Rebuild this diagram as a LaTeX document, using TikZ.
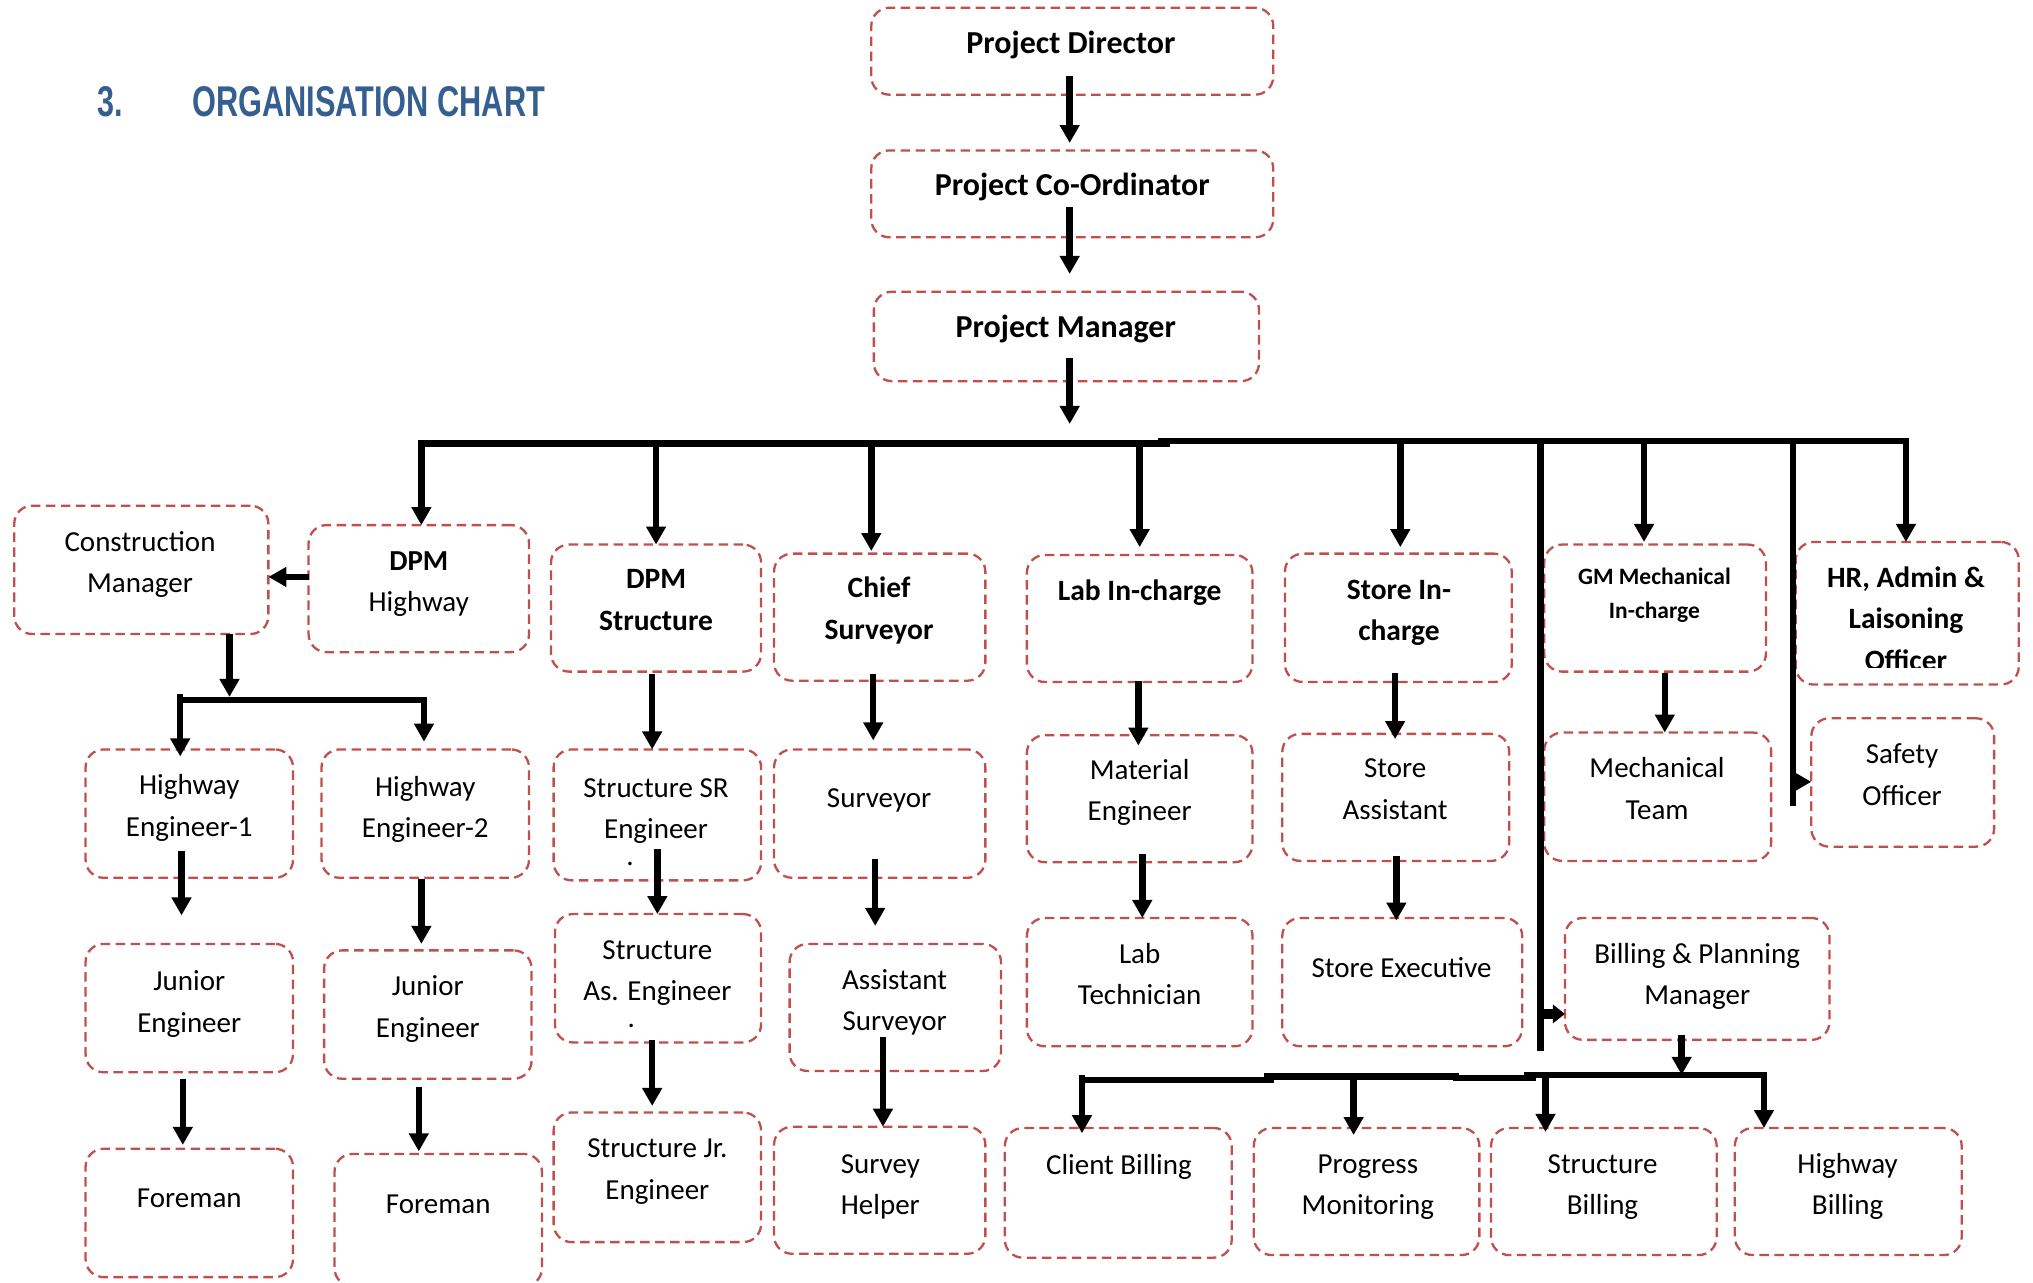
\documentclass[tikz,border=0pt]{standalone}
\usepackage{fontspec}
\usepackage{graphicx}
\setmainfont{Carlito}
\newfontfamily\headfont{Liberation Sans}
\usetikzlibrary{arrows.meta,fit,calc}
\definecolor{boxred}{RGB}{192,80,77}
\definecolor{headblue}{RGB}{54,95,145}
\newcommand\bx[5]{\node[box,fit={(#2,#3) (#4,#5)}] (#1) {};}
\newcommand\vlink[5]{\draw[arr] (#1.south) ++(#3,#4) coordinate (vl) -- ([yshift=#5]vl |- #2.north);}
\begin{document}
\begin{tikzpicture}[x=1.2966pt,y=-1.2966pt,
  box/.style={draw=boxred,line width=2.3pt,dash pattern=on 9.5pt off 5.5pt,rounded corners=18pt,inner sep=0pt,outer sep=0pt,fill=white},
  tbase/.style={anchor=north,inner sep=0pt,outer sep=0pt,align=center},
  txt/.style={tbase,yshift=29.05pt,font=\fontsize{29}{41.5}\selectfont},
  txtb/.style={tbase,yshift=29.05pt,font=\fontsize{29.5}{41.5}\selectfont\bfseries},
  txtt/.style={tbase,yshift=29.05pt,font=\fontsize{32}{41.5}\selectfont\bfseries},
  txtg/.style={tbase,yshift=23.8pt,font=\fontsize{23.5}{34}\selectfont\bfseries},
  arr/.style={line width=6.5pt,-{Triangle[width=19pt,length=18pt]}},
  arrs/.style={line width=10pt,-{Triangle[width=18pt,length=12pt]}},
  arrh/.style={line width=6.5pt,-{Triangle[width=17pt,length=16pt]}},
  bus/.style={line width=6.5pt,line cap=rect},
  head/.style={anchor=base west,inner sep=0pt,text=headblue,font=\headfont\bfseries\fontsize{43}{50}\selectfont}]
\useasboundingbox (0,0) rectangle (1568,989);

% heading
\node[head] (hnum) at (75,90) {\scalebox{0.71}[1]{3.}};
\node[head] (htitle) at (148,90) {\scalebox{0.715}[1]{ORGANISATION CHART}};

% boxes
\bx{pd}{672}{6}{982}{73}
\bx{pc}{672}{116}{982}{183}
\bx{pm}{674}{225}{971}{294}
\bx{cm}{11}{390}{207}{489}
\bx{dpmh}{238}{405}{408}{503}
\bx{dpms}{425}{420}{587}{518}
\bx{cs}{597}{427}{760}{525}
\bx{lab}{792}{428}{966}{526}
\bx{st}{991}{427}{1166}{526}
\bx{gm}{1191}{420}{1362}{518}
\bx{hr}{1385}{418}{1557}{528}
\bx{he1}{66}{578}{226}{677}
\bx{he2}{248}{578}{408}{677}
\bx{ssr}{427}{578}{587}{679}
\bx{sv}{597}{578}{760}{677}
\bx{me}{792}{567}{966}{665}
\bx{sa}{989}{566}{1164}{664}
\bx{mt}{1191}{565}{1366}{664}
\bx{so}{1397}{554}{1538}{653}
\bx{je1}{66}{728}{226}{827}
\bx{je2}{250}{733}{410}{832}
\bx{sae}{428}{705}{587}{804}
\bx{as}{609}{728}{772}{826}
\bx{lt}{792}{708}{966}{807}
\bx{se}{989}{708}{1174}{807}
\bx{bpm}{1207}{708}{1411}{802}
\bx{fm1}{66}{886}{226}{985}
\bx{fm2}{258}{890}{418}{992}
\bx{sje}{427}{858}{587}{958}
\bx{sh}{597}{869}{760}{967}
\bx{cb}{775}{870}{950}{970}
\bx{pmn}{967}{870}{1141}{968}
\bx{sbl}{1150}{870}{1324}{968}
\bx{hbl}{1338}{870}{1513}{968}

% texts
\node[txtt] (tpd) at (826,41.6) {\strut Project Director};
\node[txtt] (tpc) at (827,151) {\strut Project Co-Ordinator};
\node[txtt] (tpm) at (822,260) {\strut Project Manager};
\node[txt] (tcm) at (108,425) {\strut Construction\\\strut Manager};
\node[txt] (tdpmh) at (323,440) {\strut\textbf{DPM}\\\strut Highway};
\node[txtb] (tdpms) at (506,454) {\strut DPM\\\strut Structure};
\node[txtb] (tcs) at (678,461) {\strut Chief\\\strut Surveyor};
\node[txtb] (tlab) at (879,463) {\strut Lab In-charge};
\node[txtb] (tst) at (1079,462) {\strut Store In-\\\strut charge};
\node[txtg] (tgm) at (1276,451) {\strut GM Mechanical\\\strut In-charge};
\begin{scope}
\clip (1380,400) rectangle (1560,515);
\node[txtb] (thr) at (1470,453) {\strut HR, Admin \&\\\strut Laisoning\\\strut Officer};
\end{scope}
\node[txt] (the1) at (146,613) {\strut Highway\\\strut Engineer-1};
\node[txt] (the2) at (328,614) {\strut Highway\\\strut Engineer-2};
\node[txt] (tssr) at (506,615) {\strut Structure SR\\\strut Engineer\\[-14.5pt]\strut.\hspace*{52pt}};
\node[txt] (tsv) at (678,623) {\strut Surveyor};
\node[txt] (tme) at (879,601) {\strut Material\\\strut Engineer};
\node[txt] (tsa) at (1076,600) {\strut Store\\\strut Assistant};
\node[txt] (tmt) at (1278,600) {\strut Mechanical\\\strut Team};
\node[txt] (tso) at (1467,589) {\strut Safety\\\strut Officer};
\node[txt] (tje1) at (146,764) {\strut Junior\\\strut Engineer};
\node[txt] (tje2) at (330,768) {\strut Junior\\\strut Engineer};
\node[txt] (tsae) at (507,740) {\strut Structure\\\strut As. Engineer\\[-14.5pt]\strut.\hspace*{52pt}};
\node[txt] (tas) at (690,763) {\strut Assistant\\\strut Surveyor};
\node[txt] (tlt) at (879,743) {\strut Lab\\\strut Technician};
\node[txt] (tse) at (1081,754) {\strut Store Executive};
\node[txt] (tbpm) at (1309,743) {\strut Billing \& Planning\\\strut Manager};
\node[txt] (tfm1) at (146,931) {\strut Foreman};
\node[txt] (tfm2) at (338,936) {\strut Foreman};
\node[txt] (tsje) at (507,893) {\strut Structure Jr.\\\strut Engineer};
\node[txt] (tsh) at (679,905) {\strut Survey\\\strut Helper};
\node[txt] (tcb) at (863,906) {\strut Client Billing};
\node[txt] (tpmn) at (1055,905) {\strut Progress\\\strut Monitoring};
\node[txt] (tsbl) at (1236,905) {\strut Structure\\\strut Billing};
\node[txt] (thbl) at (1425,905) {\strut Highway\\\strut Billing};

% named points on the lines
\coordinate (pmtip) at (825,327);
\coordinate (busA) at (325,342); \coordinate (busB) at (900,342);
\coordinate (busC) at (896,340); \coordinate (busD) at (1470,340);
\coordinate (d1) at (325,342); \coordinate (d2) at (506,342);
\coordinate (d3) at (672,342); \coordinate (d4) at (879,342);
\coordinate (d5) at (1080,340); \coordinate (d6) at (1268,340);
\coordinate (d7) at (1470,340);
\coordinate (vt1) at (1188,342); \coordinate (vb1) at (1188,808); \coordinate (vs1) at (1188,782);
\coordinate (vt2) at (1383,340); \coordinate (vb2) at (1383,619); \coordinate (vs2) at (1383,603);
\coordinate (sbL) at (139,540); \coordinate (sbR) at (327,540);
\coordinate (bb1) at (834.5,833); \coordinate (bb2) at (980,833);
\coordinate (bb3) at (977,830.4); \coordinate (bb4) at (1123,830.4);
\coordinate (bb5) at (1123,831.5); \coordinate (bb6) at (1182,831.5);
\coordinate (bb7) at (1178,829); \coordinate (bb8) at (1360.5,829);
\coordinate (e1) at (834.5,829); \coordinate (e2) at (1044,833);
\coordinate (e3) at (1192,826.5); \coordinate (e4) at (1360.5,829);

% top chain
\vlink{pd}{pc}{-2}{-14.4}{7.4pt}
\vlink{pc}{pm}{-2}{-23.4}{17.8pt}
\draw[arr] (pm.south) ++(2.5,-18) -- (pmtip);

% main bus and drops
\draw[bus] (busA) -- (busB);
\draw[bus] (busC) -- (busD);
\draw[arr] (d1) -- (d1 |- dpmh.north);
\draw[arr] (d2) -- (d2 |- dpms.north);
\draw[arr] (d3) -- ([yshift=2.6pt]d3 |- cs.north);
\draw[arr] (d4) -- ([yshift=7.8pt]d4 |- lab.north);
\draw[arr] (d5) -- ([yshift=6.5pt]d5 |- st.north);
\draw[arr] (d6) -- ([yshift=2.6pt]d6 |- gm.north);
\draw[arr] (d7) -- (d7 |- hr.north);
\draw[bus] (vt1) -- (vb1);
\draw[bus] (vt2) -- (vb2);
\draw[arrs] (vs1) -- (vs1 -| bpm.west);
\draw[arrh] (vs2) -- (vs2 -| so.west);

% highway branch
\draw[arr] ([yshift=11.7pt]dpmh.west) -- ([yshift=11.7pt]dpmh.west -| cm.east);
\draw[arr] (cm.south) ++(68,0) coordinate (vl) -- ([yshift=3.2pt]vl |- sbL);
\draw[bus] (sbL) -- (sbR);
\draw[arr] ([yshift=6.5pt]sbL) -- ([yshift=-7pt]sbL |- he1.north);
\draw[arr] (sbR) -- ([yshift=7.8pt]sbR |- he2.north);
\vlink{he1}{je1}{-6}{-21}{28.5pt}
\vlink{je1}{fm1}{-5}{5}{3.9pt}
\vlink{he2}{je2}{-3}{1}{6.5pt}
\vlink{je2}{fm2}{-7}{6}{2.6pt}

% structure and survey
\vlink{dpms}{ssr}{-3}{2}{0pt}
\vlink{ssr}{sae}{0}{-24}{0pt}
\vlink{sae}{sje}{-4.5}{-2}{6.5pt}
\vlink{cs}{sv}{-5}{-5}{9pt}
\vlink{sv}{as}{-3.5}{-14.4}{18pt}
\vlink{as}{sh}{-9.5}{-26}{0pt}

% lab, store, mechanical
\vlink{lab}{me}{-1}{-1}{-10.4pt}
\vlink{me}{lt}{2}{-6}{0pt}
\vlink{st}{sa}{-2.5}{-7}{-5.2pt}
\vlink{sa}{se}{0.5}{-4}{-2.6pt}
\vlink{gm}{mt}{7.5}{1}{0pt}

% billing
\draw[arr] (bpm.south) ++(-12,-4) coordinate (vl) -- (vl |- bb7);
\draw[bus] (bb1) -- (bb2);
\draw[bus] (bb3) -- (bb4);
\draw[bus] (bb5) -- (bb6);
\draw[bus] (bb7) -- (bb8);
\draw[arr] (e1) -- ([yshift=-5.2pt]e1 |- cb.north);
\draw[arr] (e2) -- ([yshift=-7pt]e2 |- pmn.north);
\draw[arr] (e3) -- ([yshift=-3.9pt]e3 |- sbl.north);
\draw[arr] (e4) -- (e4 |- hbl.north);
\end{tikzpicture}
\end{document}
